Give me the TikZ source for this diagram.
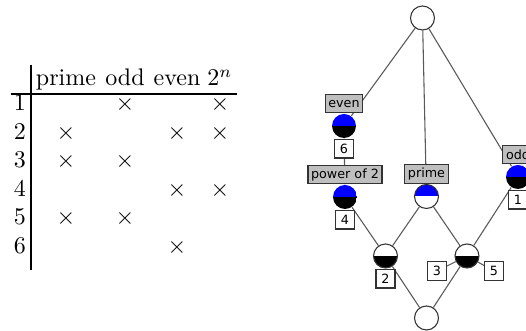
\documentclass[tikz,border=0pt]{standalone}
\usepackage{fontspec}
\newfontfamily\lblfont{DejaVu Sans}
\usetikzlibrary{positioning,backgrounds}

\tikzset{
  konsep/.style={circle, draw=black!80, line width=0.45pt, fill=white,
    minimum size=10pt, inner sep=0pt},
  penuh/.style={konsep, draw=none, path picture={
      \fill[blue] (path picture bounding box.west) rectangle (path picture bounding box.north east);
      \fill[black] (path picture bounding box.west) rectangle (path picture bounding box.south east);}},
  atas/.style={konsep, path picture={
      \fill[blue] (path picture bounding box.west) rectangle (path picture bounding box.north east);}},
  bawah/.style={konsep, path picture={
      \fill[black] (path picture bounding box.west) rectangle (path picture bounding box.south east);}},
  nama/.style={draw=black!80, fill=black!25, line width=0.45pt,
    font=\lblfont\fontsize{5.3}{6}\selectfont, inner xsep=1.3pt, inner ysep=0pt,
    minimum height=7.7pt},
  objek/.style={draw=black!80, fill=white, line width=0.45pt,
    font=\lblfont\fontsize{5.3}{6}\selectfont, minimum size=7.9pt, inner sep=0pt},
  garis/.style={black!65, line width=0.45pt},
}

\begin{document}
\begin{tikzpicture}[x=0.4167pt, y=-0.4167pt]
    \clip (0,0) rectangle (526,331);

    % tabel
    \draw[line width=0.9pt] (31,65) -- (31,270);
    \draw[line width=0.9pt] (11,94) -- (237,94);
    \node[anchor=base, inner sep=0pt] (h1) at (66,86) {prime};
    \node[anchor=base, inner sep=0pt] (h2) at (125,86) {odd};
    \node[anchor=base, inner sep=0pt] (h3) at (177,86) {even};
    \node[anchor=base, inner sep=0pt] (h4) at (220,86) {$2^n$};
    \foreach \i in {1,...,6}
        \node[anchor=base, inner sep=0pt] (r\i) at (20,{111+28.5*(\i-1)}) {\i};
    \foreach \r/\k in {1/2,1/4,2/1,2/3,2/4,3/1,3/2,4/3,4/4,5/1,5/2,6/3}
        \node[anchor=base, inner sep=0pt] (x\r\k) at (h\k |- r\r.base) {$\times$};

    % konsep
    \node[konsep] (T)  at (422.5,18) {};
    \node[penuh]  (Ev) at (344,126) {};
    \node[penuh]  (Pw) at (345,197) {};
    \node[atas]   (Pr) at (426.5,196.5) {};
    \node[penuh]  (Od) at (518,177) {};
    \node[bawah]  (N2) at (385.5,256) {};
    \node[bawah]  (N35) at (467,256) {};
    \node[konsep] (B)  at (426.5,318) {};

    % atribut dan objek
    \node[nama, above=0pt of Ev] (lEv) {even};
    \node[nama, above=0pt of Pw] (lPw) {power of 2};
    \node[nama, above=0pt of Pr] (lPr) {prime};
    \node[nama, above=0pt of Od] (lOd) {odd};
    \node[objek, below=0pt of Ev] (o6) {6};
    \node[objek, below=0pt of Pw] (o4) {4};
    \node[objek, below=0pt of Od] (o1) {1};
    \node[objek, below=0pt of N2] (o2) {2};
    \node[objek] (o3) at (437,271) {3};
    \node[objek] (o5) at (494,271) {5};

    % garis
    \begin{scope}[on background layer]
    \draw[garis] (T) -- (Ev);
    \draw[garis] (T) -- (Pr);
    \draw[garis] (T) -- (Od);
    \draw[garis] (Ev) -- (Pw);
    \draw[garis] (Pw) -- (N2);
    \draw[garis] (Pr) -- (N2);
    \draw[garis] (Pr) -- (N35);
    \draw[garis] (Od) -- (N35);
    \draw[garis] (N2) -- (B);
    \draw[garis] (N35) -- (B);
    \draw[garis] (o3) -- (N35);
    \draw[garis] (o5) -- (N35);
    \end{scope}
\end{tikzpicture}
\end{document}
